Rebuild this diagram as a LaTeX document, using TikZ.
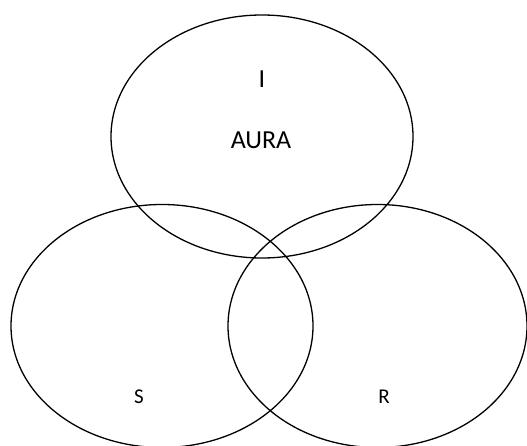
\documentclass[tikz,border=0pt]{standalone}
\usepackage{fontspec}
\setmainfont{Carlito}
\usetikzlibrary{shapes.geometric, positioning}

\begin{document}
\begin{tikzpicture}[
  x=1pt, y=-1pt,
  setring/.style={
    ellipse, draw=black, line width=1.3pt,
    inner sep=0pt, outer sep=0pt
  },
  biglbl/.style={font=\fontsize{26}{30}\selectfont, inner sep=0pt},
  smalllbl/.style={font=\fontsize{21}{24}\selectfont, inner sep=0pt, anchor=base}
]
\useasboundingbox (0,0) rectangle (527,446);

%% The three sets
\node[setring, minimum width=302pt, minimum height=243pt] (setI) at (262,136.5) {};
\node[setring, minimum width=302pt, minimum height=243pt] (setS) at (162,326) {};
\node[setring, minimum width=299pt, minimum height=243pt] (setR) at (377.5,326) {};

%% Labels
\node[biglbl] (lblI) at (262,79.5) {I};
\node[biglbl] (aura) at (261,140) {AURA};
\node[smalllbl] (lblS) at (139,403) {S};
\node[smalllbl] (lblR) at (384,403) {R};

\end{tikzpicture}
\end{document}
